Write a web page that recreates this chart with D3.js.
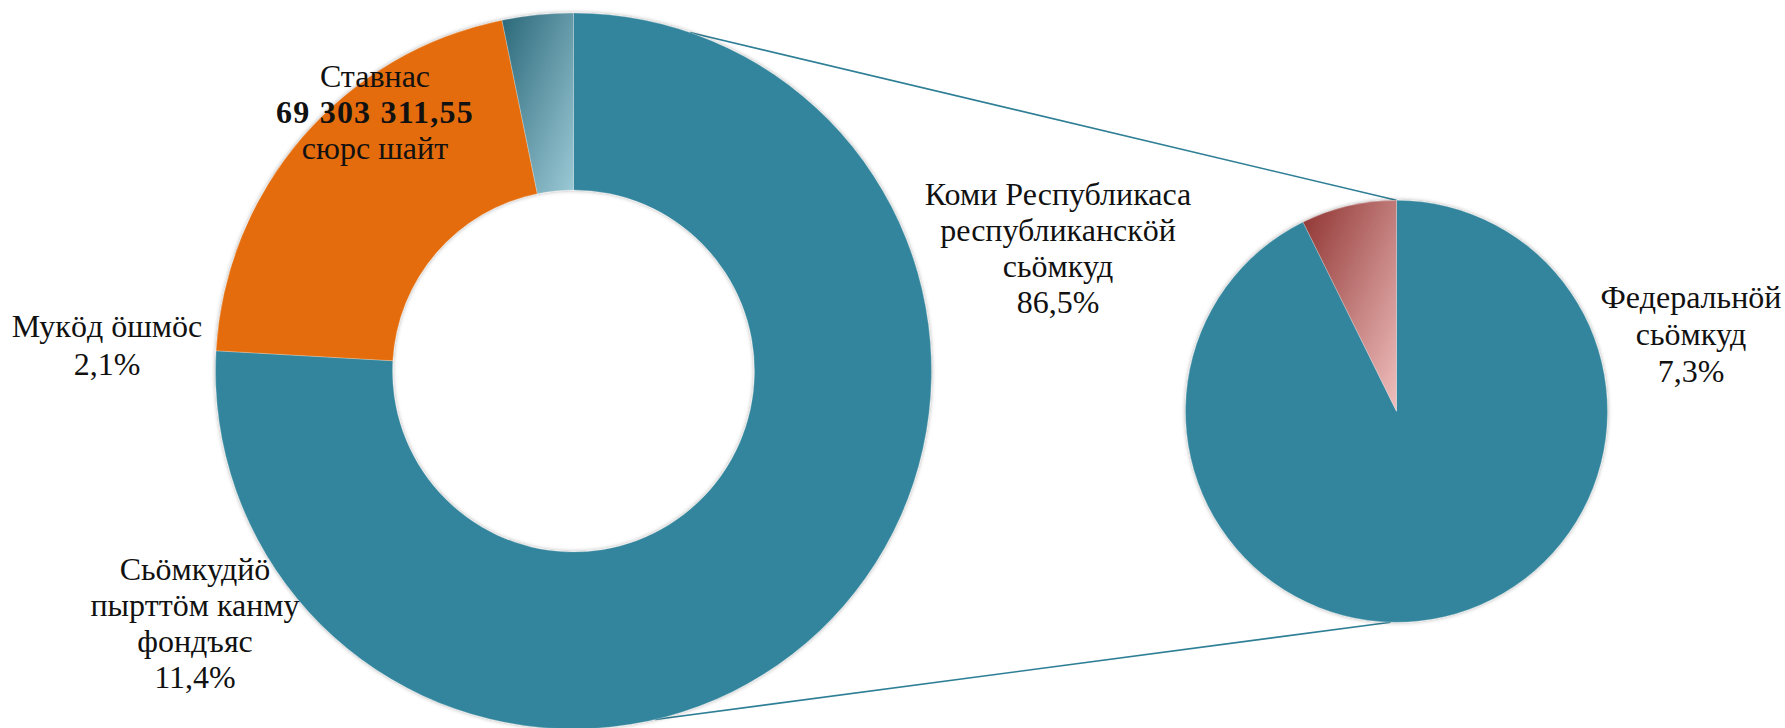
<!DOCTYPE html>
<html>
<head>
<meta charset="utf-8">
<script src="https://cdn.jsdelivr.net/npm/d3@7/dist/d3.min.js"></script>
<style>
  html, body { margin: 0; padding: 0; background: #ffffff; }
  svg { display: block; }
</style>
</head>
<body>
<svg id="chart" width="1785" height="728"></svg>
<script>
// ---- Data ----
// Main doughnut slices (drawn share)
const mainCategories = [
  "Коми Республикаса республиканскӧй сьӧмкуд",
  "Сьӧмкудйӧ пырттӧм канму фондъяс",
  "Мукӧд ӧшмӧс"
];
const mainValues = [75.9, 20.9, 3.2];

// Secondary pie slices
const subCategories = ["Республиканскӧй сьӧмкуд", "Федеральнӧй сьӧмкуд"];
const subValues = [92.7, 7.3];

// Label texts
const labelKomi = ["Коми Республикаса", "республиканскӧй", "сьӧмкуд", "86,5%"];
const labelFederal = ["Федеральнӧй", "сьӧмкуд", "7,3%"];
const labelOther = ["Мукӧд ӧшмӧс", "2,1%"];
const labelFunds = ["Сьӧмкудйӧ", "пырттӧм канму", "фондъяс", "11,4%"];
const labelTotal = ["Ставнас", "69 303 311,55", "сюрс шайт"];

// ---- Layout ----
const FONT = "'Liberation Serif'";
const svg = d3.select("#chart");
const main = { cx: 573.5, cy: 371, r: 358, r0: 181 };
const sub = { cx: 1396.5, cy: 411.3, r: 211 };

const defs = svg.append("defs");
const shadow = defs.append("filter").attr("id", "soft")
  .attr("x", "-5%").attr("y", "-5%").attr("width", "110%").attr("height", "110%");
shadow.append("feDropShadow").attr("dx", 0).attr("dy", 0)
  .attr("stdDeviation", 2).attr("flood-color", "#000").attr("flood-opacity", 0.35);

const g1 = defs.append("linearGradient").attr("id", "gradTeal")
  .attr("x1", 0).attr("y1", 0).attr("x2", 1).attr("y2", 1);
g1.append("stop").attr("offset", "0%").attr("stop-color", "#2a6879");
g1.append("stop").attr("offset", "100%").attr("stop-color", "#9cc9d6");

const g2 = defs.append("linearGradient").attr("id", "gradRed")
  .attr("x1", 0).attr("y1", 0).attr("x2", 1).attr("y2", 1);
g2.append("stop").attr("offset", "0%").attr("stop-color", "#8e3331");
g2.append("stop").attr("offset", "100%").attr("stop-color", "#f0c0be");

const mainFills = ["#31859c", "#e46c0a", "url(#gradTeal)"];
const subFills = ["#31859c", "url(#gradRed)"];

const pie = d3.pie().sort(null).startAngle(0).endAngle(2 * Math.PI);
const mainArcs = pie(mainValues);
const subArcs = pie(subValues);

// ---- Connector lines (drawn behind the pies) ----
const connColor = "#2e7f96";
const deg = Math.PI / 180;
const topStart = d3.pointRadial(19 * deg, main.r);
const topEnd = d3.pointRadial(subArcs[0].startAngle, sub.r);
const botStart = d3.pointRadial(166.8 * deg, main.r);
const botEnd = d3.pointRadial(Math.PI + 1.6 * deg, sub.r);
const conns = [
  [[main.cx + topStart[0], main.cy + topStart[1]], [sub.cx + topEnd[0], sub.cy + topEnd[1]]],
  [[main.cx + botStart[0], main.cy + botStart[1]], [sub.cx + botEnd[0], sub.cy + botEnd[1]]]
];
svg.append("g").selectAll("line").data(conns).join("line")
  .attr("x1", d => d[0][0]).attr("y1", d => d[0][1])
  .attr("x2", d => d[1][0]).attr("y2", d => d[1][1])
  .attr("stroke", connColor).attr("stroke-width", 1.6);

// ---- Main doughnut ----
const arcMain = d3.arc().innerRadius(main.r0).outerRadius(main.r);
svg.append("g")
  .attr("transform", `translate(${main.cx},${main.cy})`)
  .attr("filter", "url(#soft)")
  .selectAll("path").data(mainArcs).join("path")
  .attr("d", arcMain)
  .attr("fill", (d, i) => mainFills[i])
  .attr("stroke", "rgba(255,255,255,0.25)")
  .attr("stroke-width", 1);

// ---- Secondary pie ----
const arcSub = d3.arc().innerRadius(0).outerRadius(sub.r);
svg.append("g")
  .attr("transform", `translate(${sub.cx},${sub.cy})`)
  .attr("filter", "url(#soft)")
  .selectAll("path").data(subArcs).join("path")
  .attr("d", arcSub)
  .attr("fill", (d, i) => subFills[i])
  .attr("stroke", "rgba(255,255,255,0.25)")
  .attr("stroke-width", 1);

// ---- Labels ----
function block(lines, x, y0, lh, boldIdx) {
  const t = svg.append("text")
    .attr("text-anchor", "middle")
    .style("font-family", FONT)
    .style("font-size", "32px")
    .attr("fill", "#111111");
  lines.forEach((s, i) => {
    const ts = t.append("tspan").attr("x", x).attr("y", y0 + i * lh).text(s);
    if (i === boldIdx) ts.style("font-weight", "bold").attr("letter-spacing", 1.2);
  });
}
block(labelKomi, 1058, 205, 36);
block(labelFederal, 1691, 308, 37);
block(labelOther, 107, 337, 38);
block(labelFunds, 195, 580, 36);
block(labelTotal, 375, 87, 36, 1);
</script>
</body>
</html>
